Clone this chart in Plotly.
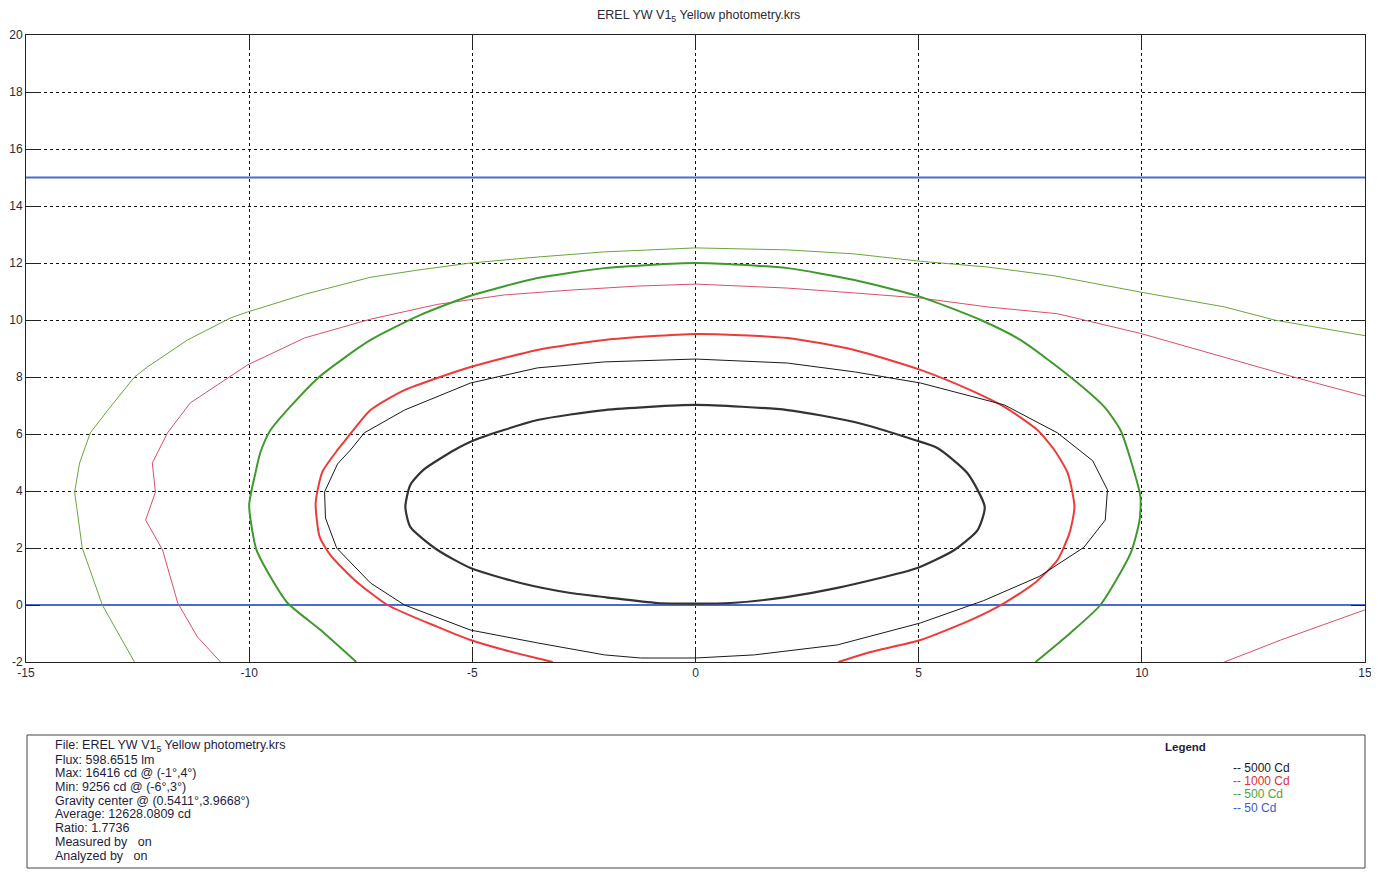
import plotly.graph_objects as go

# ---------------- data ----------------
black_thick_x = [0.0, 2.06, 3.56, 4.91, 5.42, 6.09, 6.48, 6.32, 5.80, 4.97, 3.18, 2.00, 0.78, -0.85, -2.00, -2.80, -3.92, -5.04, -5.78, -6.39, -6.50, -6.39, -6.09, -5.40, -4.95, -3.54, -2.04, 0.0]
black_thick_y = [7.02, 6.84, 6.42, 5.79, 5.51, 4.63, 3.44, 2.63, 1.93, 1.30, 0.60, 0.27, 0.07, 0.07, 0.27, 0.42, 0.77, 1.30, 1.93, 2.74, 3.44, 4.21, 4.75, 5.44, 5.79, 6.49, 6.84, 7.02]

black_thin_x = [0.0, 2.06, 3.56, 5.04, 6.92, 8.11, 8.90, 9.23, 9.18, 8.70, 7.70, 6.45, 5.04, 3.18, 1.32, 0.0, -1.23, -2.04, -3.54, -5.04, -6.52, -7.28, -8.04, -8.29, -8.31, -8.02, -7.73, -7.42, -6.52, -5.04, -3.54, -2.04, 0.0]
black_thin_y = [8.63, 8.49, 8.18, 7.79, 7.02, 6.04, 5.06, 4.04, 2.98, 2.02, 1.00, 0.15, -0.63, -1.40, -1.75, -1.86, -1.86, -1.75, -1.33, -0.88, 0.0, 0.77, 2.0, 3.05, 3.97, 4.95, 5.44, 6.04, 6.84, 7.79, 8.32, 8.53, 8.63]

red_thick_x = [-3.20, -3.38, -4.28, -5.04, -5.78, -6.90, -7.64, -8.18, -8.42, -8.51, -8.36, -8.02, -7.84, -7.28, -6.52, -5.04, -3.54, -2.04, 0.0, 2.06, 3.56, 5.04, 6.16, 6.92, 7.66, 8.04, 8.34, 8.49, 8.38, 8.11, 7.60, 6.92, 6.16, 5.04, 3.92, 3.34, 3.20]
red_thick_y = [-2.0, -1.93, -1.58, -1.23, -0.77, 0.0, 0.88, 1.75, 2.39, 3.58, 4.67, 5.44, 5.79, 6.84, 7.54, 8.35, 8.95, 9.30, 9.51, 9.37, 8.95, 8.25, 7.54, 6.95, 6.14, 5.44, 4.63, 3.44, 2.53, 1.58, 0.77, 0.07, -0.53, -1.23, -1.65, -1.93, -2.0]

red_thin_x = [-10.64, -11.16, -11.60, -11.94, -12.32, -12.10, -12.17, -11.83, -11.32, -10.26, -10.04, -8.76, -7.28, -5.78, -4.28, -2.80, -1.30, 0.0, 2.06, 3.56, 5.04, 6.54, 8.11, 9.97, 11.85, 13.49, 15.0]
red_thin_y = [-2.0, -1.12, 0.07, 1.93, 2.98, 3.96, 4.98, 6.04, 7.09, 8.20, 8.42, 9.37, 10.03, 10.55, 10.88, 11.05, 11.19, 11.26, 11.12, 10.95, 10.77, 10.46, 10.22, 9.53, 8.70, 7.96, 7.33]

red_thin2_x = [11.85, 13.11, 15.0]
red_thin2_y = [-2.0, -1.23, -0.17]

green_thick_x = [-7.60, -8.40, -9.14, -9.52, -9.84, -10.00, -9.86, -9.75, -9.52, -8.47, -7.28, -6.16, -5.04, -3.54, -2.04, 0.0, 2.06, 3.56, 5.04, 6.39, 7.28, 8.40, 9.16, 9.52, 9.75, 9.97, 9.95, 9.75, 9.07, 8.40, 7.62]
green_thick_y = [-2.0, -0.88, 0.07, 0.98, 1.95, 3.50, 4.63, 5.35, 6.14, 7.95, 9.30, 10.18, 10.85, 11.47, 11.82, 12.0, 11.82, 11.40, 10.81, 10.0, 9.30, 8.0, 6.95, 6.14, 5.09, 3.79, 2.98, 1.82, 0.0, -0.98, -2.0]

green_thin_x = [-12.57, -13.29, -13.74, -13.91, -13.80, -13.56, -13.11, -12.57, -12.28, -11.38, -10.42, -10.04, -8.76, -7.28, -6.23, -5.04, -3.54, -2.04, 0.0, 2.06, 3.56, 5.04, 6.54, 8.04, 10.0, 11.85, 12.97, 15.0]
green_thin_y = [-2.0, 0.0, 2.0, 3.96, 4.98, 6.04, 6.95, 8.0, 8.35, 9.30, 10.07, 10.28, 10.90, 11.50, 11.75, 12.0, 12.21, 12.39, 12.53, 12.46, 12.32, 12.06, 11.86, 11.55, 10.97, 10.46, 10.0, 9.45]

blue_x = [-15, 15]
blue_low_y = [0, 0]
blue_high_y = [15, 15]

x_ticks = [-15, -10, -5, 0, 5, 10, 15]
y_ticks = [-2, 0, 2, 4, 6, 8, 10, 12, 14, 16, 18, 20]

title_text = "EREL YW V1<sub>5</sub> Yellow photometry.krs"
info_lines = [
    "File: EREL YW V1<sub>5</sub> Yellow photometry.krs",
    "Flux: 598.6515 lm",
    "Max: 16416 cd @ (-1°,4°)",
    "Min: 9256 cd @ (-6°,3°)",
    "Gravity center @ (0.5411°,3.9668°)",
    "Average: 12628.0809 cd",
    "Ratio: 1.7736",
    "Measured by   on",
    "Analyzed by   on",
]
legend_labels = ["-- 5000 Cd", "-- 1000 Cd", "-- 500 Cd", "-- 50 Cd"]
legend_colors = ["#1a1a1a", "#d8323c", "#58a032", "#3a5cc8"]

# ---------------- figure ----------------
OFF = 8  # browser body margin
W, H = 1379 - OFF, 883 - OFF
L, R, T, B = 26 - OFF, 1365 - OFF, 35 - OFF, 662 - OFF


def pxx(p):
    return (p - OFF - L) / (R - L)


def pxy(p):
    return (B - (p - OFF)) / (B - T)


fig = go.Figure()


def add_line(x, y, color, width, smooth=False):
    line = dict(color=color, width=width)
    if smooth:
        line.update(shape="spline", smoothing=0.6)
    fig.add_trace(go.Scatter(x=x, y=y, mode="lines", line=line,
                             showlegend=False, hoverinfo="skip"))


add_line(blue_x, blue_low_y, "#4a6cd0", 2)
add_line(blue_x, blue_high_y, "#4a6cd0", 2)
add_line(green_thin_x, green_thin_y, "#6aa63a", 1)
add_line(red_thin_x, red_thin_y, "#d8506a", 1)
add_line(red_thin2_x, red_thin2_y, "#d8506a", 1)
add_line(green_thick_x, green_thick_y, "#3f9a2c", 2, smooth=True)
add_line(red_thick_x, red_thick_y, "#ee3a3a", 2, smooth=True)
add_line(black_thin_x, black_thin_y, "#1a1a1a", 1)
add_line(black_thick_x, black_thick_y, "#333333", 2.2, smooth=True)

axis_common = dict(
    showline=True, linecolor="#222222", linewidth=1, mirror="ticks",
    ticks="inside", ticklen=14, tickcolor="#222222", tickwidth=1,
    showgrid=True, gridcolor="#111111", gridwidth=1, griddash="3px,3px",
    zeroline=False, automargin=False,
    tickfont=dict(family="Liberation Sans, Arial", size=12, color="#2a2a3a"),
)

fig.update_xaxes(range=[-15, 15], tickvals=x_ticks, ticktext=[str(v) for v in x_ticks], **axis_common)
fig.update_yaxes(range=[-2, 20], tickvals=y_ticks, ticktext=[str(v) for v in y_ticks], **axis_common)

font_fam = "Liberation Sans, Arial"
annotations = [
    dict(text=title_text, x=pxx(698), y=pxy(16), xref="paper", yref="paper", showarrow=False,
         xanchor="center", yanchor="middle", font=dict(family=font_fam, size=12.5, color="#2a2a3a")),
]
info_y = [746, 760, 773, 787, 801, 814, 828, 842, 856]
for t, yy in zip(info_lines, info_y):
    annotations.append(dict(text=t, x=pxx(53), y=pxy(yy), xref="paper", yref="paper", showarrow=False,
                            xanchor="left", yanchor="middle",
                            font=dict(family=font_fam, size=12.5, color="#1e1e3c")))
annotations.append(dict(text="<b>Legend</b>", x=pxx(1185), y=pxy(747), xref="paper", yref="paper",
                        showarrow=False, xanchor="center", yanchor="middle",
                        font=dict(family=font_fam, size=11.5, color="#1e1e3c")))
leg_y = [768, 781, 794, 808]
for t, c, yy in zip(legend_labels, legend_colors, leg_y):
    annotations.append(dict(text=t, x=pxx(1231), y=pxy(yy), xref="paper", yref="paper", showarrow=False,
                            xanchor="left", yanchor="middle",
                            font=dict(family=font_fam, size=12, color=c)))

shapes = [
    dict(type="rect", xref="paper", yref="paper", x0=pxx(27), x1=pxx(1365), y0=pxy(868), y1=pxy(735),
         line=dict(color="#444444", width=1), fillcolor="rgba(0,0,0,0)"),
]

fig.update_layout(
    width=W, height=H, autosize=False,
    margin=dict(l=L, r=W - R, t=T, b=H - B),
    paper_bgcolor="white", plot_bgcolor="white",
    annotations=annotations, shapes=shapes, showlegend=False,
)

fig.write_html("out.html")
